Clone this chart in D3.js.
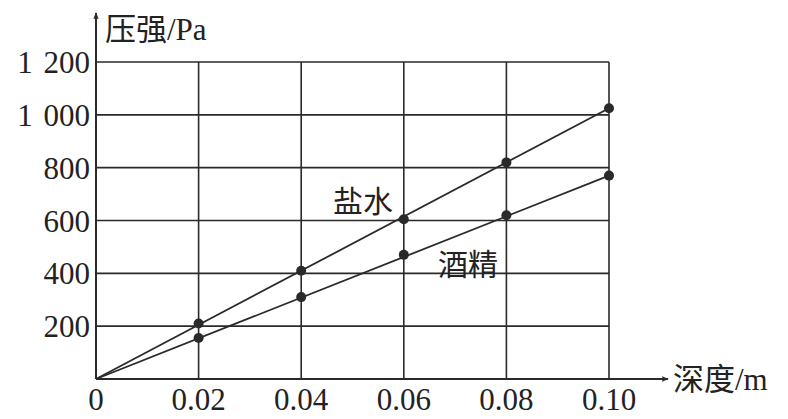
<!DOCTYPE html>
<html>
<head>
<meta charset="utf-8">
<script src="https://cdn.jsdelivr.net/npm/d3@7"></script>
<style>
  body { margin: 0; background: #fff; }
  svg text { fill: #222; }
</style>
</head>
<body>
<div id="chart"></div>
<script>
// depth (m) and pressure (Pa)
var depths = [0, 0.02, 0.04, 0.06, 0.08, 0.10];
var saltWater = [0, 210, 410, 605, 820, 1025];
var alcohol = [0, 155, 310, 470, 620, 770];

var xTicks = [0, 0.02, 0.04, 0.06, 0.08, 0.10];
var xTickLabels = ["0", "0.02", "0.04", "0.06", "0.08", "0.10"];
var yTicks = [200, 400, 600, 800, 1000, 1200];
var yTickLabels = ["200", "400", "600", "800", "1 000", "1 200"];

var width = 788;
var height = 419;

var svg = d3.select("#chart")
    .append("svg")
    .attr("width", width)
    .attr("height", height);

var x = d3.scaleLinear().domain([0, 0.10]).range([96, 609]);
var y = d3.scaleLinear().domain([0, 1200]).range([379, 62]);

var ink = "#2a2a2a";
var numFont = "'Liberation Serif', 'Times New Roman', serif";
var cjkFont = "'Liberation Serif', 'Noto Sans CJK SC', serif";

// grid
svg.append("g")
    .selectAll("line")
    .data(yTicks)
    .enter()
    .append("line")
    .attr("x1", x(0))
    .attr("x2", x(0.10))
    .attr("y1", function (d) { return y(d); })
    .attr("y2", function (d) { return y(d); })
    .attr("stroke", ink)
    .attr("stroke-width", 1.6);

svg.append("g")
    .selectAll("line")
    .data(xTicks.slice(1))
    .enter()
    .append("line")
    .attr("x1", function (d) { return x(d); })
    .attr("x2", function (d) { return x(d); })
    .attr("y1", y(0))
    .attr("y2", y(1200))
    .attr("stroke", ink)
    .attr("stroke-width", 1.6);

// arrow heads
var defs = svg.append("defs");
defs.append("marker")
    .attr("id", "arrow")
    .attr("viewBox", "0 0 10 10")
    .attr("refX", 9)
    .attr("refY", 5)
    .attr("markerWidth", 7)
    .attr("markerHeight", 7)
    .attr("markerUnits", "userSpaceOnUse")
    .attr("orient", "auto")
    .append("path")
    .attr("d", "M0,1 L10,5 L0,9 L2,5 Z")
    .attr("fill", ink);

// axes
svg.append("line")
    .attr("x1", x(0)).attr("y1", y(0))
    .attr("x2", 668).attr("y2", y(0))
    .attr("stroke", ink)
    .attr("stroke-width", 2)
    .attr("marker-end", "url(#arrow)");

svg.append("line")
    .attr("x1", x(0)).attr("y1", y(0))
    .attr("x2", x(0)).attr("y2", 13)
    .attr("stroke", ink)
    .attr("stroke-width", 2)
    .attr("marker-end", "url(#arrow)");

// tick labels
svg.append("g")
    .selectAll("text")
    .data(yTicks)
    .enter()
    .append("text")
    .attr("x", x(0) - 6)
    .attr("y", function (d) { return y(d) + 11; })
    .attr("text-anchor", "end")
    .attr("font-family", numFont)
    .attr("font-size", 31)
    .attr("word-spacing", 3)
    .text(function (d, i) { return yTickLabels[i]; });

svg.append("g")
    .selectAll("text")
    .data(xTicks)
    .enter()
    .append("text")
    .attr("x", function (d) { return x(d); })
    .attr("y", 410)
    .attr("text-anchor", "middle")
    .attr("font-family", numFont)
    .attr("font-size", 31)
    .text(function (d, i) { return xTickLabels[i]; });

// axis titles
svg.append("text")
    .attr("x", 105)
    .attr("y", 40)
    .attr("font-family", cjkFont)
    .attr("font-size", 31)
    .text("压强/Pa");

svg.append("text")
    .attr("x", 673)
    .attr("y", 390)
    .attr("font-family", cjkFont)
    .attr("font-size", 31)
    .text("深度/m");

// series
var series = [
    { name: "盐水", values: saltWater, lx: 333, ly: 212 },
    { name: "酒精", values: alcohol, lx: 438, ly: 275 }
];

var line = d3.line()
    .x(function (d) { return x(d[0]); })
    .y(function (d) { return y(d[1]); });

series.forEach(function (s) {
    var pts = depths.map(function (d, i) { return [d, s.values[i]]; });

    // straight line through the origin to the last reading
    svg.append("path")
        .attr("d", line([pts[0], pts[pts.length - 1]]))
        .attr("fill", "none")
        .attr("stroke", ink)
        .attr("stroke-width", 1.8);

    svg.append("g")
        .selectAll("circle")
        .data(pts.slice(1))
        .enter()
        .append("circle")
        .attr("cx", function (d) { return x(d[0]); })
        .attr("cy", function (d) { return y(d[1]); })
        .attr("r", 5)
        .attr("fill", ink);

    svg.append("text")
        .attr("x", s.lx)
        .attr("y", s.ly)
        .attr("font-family", cjkFont)
        .attr("font-size", 30)
        .text(s.name);
});
</script>
</body>
</html>
